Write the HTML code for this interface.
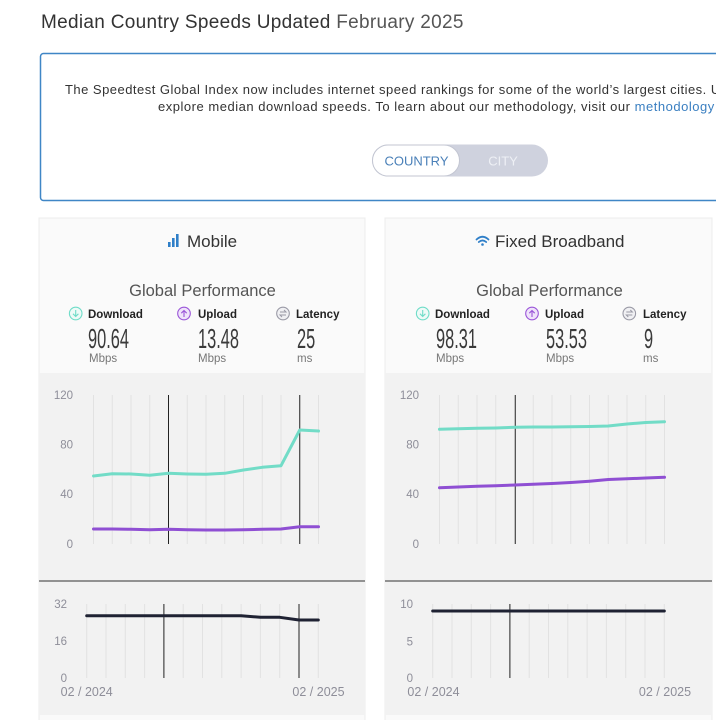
<!DOCTYPE html>
<html><head><meta charset="utf-8"><style>
html,body{margin:0;padding:0;background:#fff;width:716px;height:720px;overflow:hidden}
svg{display:block;font-family:"Liberation Sans",sans-serif}
</style></head><body>
<svg width="716" height="720" viewBox="0 0 716 720" xmlns="http://www.w3.org/2000/svg">
<!-- Title -->
<text x="41" y="28" font-size="19" letter-spacing="0.3" fill="#333">Median Country Speeds Updated <tspan fill="#555">February 2025</tspan></text>
<!-- Info box -->
<rect x="40.5" y="53.5" width="700" height="147" rx="3" fill="#fff" stroke="#3f86c6" stroke-width="1.5"/>
<text x="65" y="94" font-size="13" letter-spacing="0.48" fill="#333">The Speedtest Global Index now includes internet speed rankings for some of the world’s largest cities. Use</text>
<text x="158" y="111" font-size="13" letter-spacing="0.52" fill="#333">explore median download speeds. To learn about our methodology, visit our <tspan fill="#3a7fc1">methodology page</tspan></text>
<!-- Toggle -->
<rect x="372" y="144.5" width="176" height="32" rx="16" fill="#cfd2de"/>
<rect x="372.5" y="145" width="87" height="31" rx="15.5" fill="#fff" stroke="#c3c6d2"/>
<text x="416.5" y="165.5" font-size="13" text-anchor="middle" fill="#4a80b8">COUNTRY</text>
<text x="503" y="165.5" font-size="13" text-anchor="middle" fill="#eef0f5">CITY</text>

<!-- Cards -->
<rect x="39" y="218" width="326" height="510" fill="#fafafa" stroke="#ececec"/>
<rect x="385" y="218" width="327" height="510" fill="#fafafa" stroke="#ececec"/>
<rect x="39" y="373" width="326" height="342" fill="#f2f2f2"/>
<rect x="385" y="373" width="327" height="342" fill="#f2f2f2"/>

<!-- Mobile header -->
<rect x="168" y="242" width="2.6" height="5" fill="#2f7fc8"/>
<rect x="172" y="238" width="2.6" height="9" fill="#2f7fc8"/>
<rect x="176" y="234" width="2.6" height="13" fill="#2f7fc8"/>
<text x="187" y="247" font-size="17" fill="#333">Mobile</text>
<!-- Fixed header -->
<g fill="none" stroke="#2f7fc8" stroke-width="1.8" stroke-linecap="round">
<path d="M476.5 239.5 Q482.5 234 488.5 239.5"/>
<path d="M478.8 242 Q482.5 238.8 486.2 242"/>
</g>
<circle cx="482.5" cy="244.5" r="1.3" fill="#2f7fc8"/>
<text x="495" y="247" font-size="17" fill="#333">Fixed Broadband</text>

<text x="202.5" y="296" font-size="16.5" text-anchor="middle" fill="#555">Global Performance</text>
<text x="549.5" y="296" font-size="16.5" text-anchor="middle" fill="#555">Global Performance</text>

<!-- Icons & labels -->
<g font-size="11.5" font-weight="600" fill="#222">
<text x="88" y="318">Download</text><text x="198" y="318">Upload</text><text x="296" y="318">Latency</text>
<text x="435" y="318">Download</text><text x="545" y="318">Upload</text><text x="643" y="318">Latency</text>
</g>
<g id="icons">
<circle cx="75.7" cy="313.5" r="6.3" fill="#eefaf7" stroke="#6fdcc8" stroke-width="1.1"/>
<path d="M75.7 310v6.5M73 313.8l2.7 2.7 2.7-2.7" fill="none" stroke="#6fdcc8" stroke-width="1.1"/>
<circle cx="422.7" cy="313.5" r="6.3" fill="#eefaf7" stroke="#6fdcc8" stroke-width="1.1"/>
<path d="M422.7 310v6.5M420 313.8l2.7 2.7 2.7-2.7" fill="none" stroke="#6fdcc8" stroke-width="1.1"/>
<circle cx="184" cy="313.5" r="6.3" fill="#efe3fa" stroke="#9a55d8" stroke-width="1.1"/>
<path d="M184 317v-6.5M181.3 313.2l2.7-2.7 2.7 2.7" fill="none" stroke="#9a55d8" stroke-width="1.1"/>
<circle cx="532" cy="313.5" r="6.3" fill="#efe3fa" stroke="#9a55d8" stroke-width="1.1"/>
<path d="M532 317v-6.5M529.3 313.2l2.7-2.7 2.7 2.7" fill="none" stroke="#9a55d8" stroke-width="1.1"/>
<circle cx="283" cy="313.5" r="6.3" fill="#f0f0f3" stroke="#9a9aa6" stroke-width="1.1"/>
<path d="M280 312h6l-2-2M286 315h-6l2 2" fill="none" stroke="#9a9aa6" stroke-width="1"/>
<circle cx="629.3" cy="313.5" r="6.3" fill="#f0f0f3" stroke="#9a9aa6" stroke-width="1.1"/>
<path d="M626.3 312h6l-2-2M632.3 315h-6l2 2" fill="none" stroke="#9a9aa6" stroke-width="1"/>
</g>
<!-- Big numbers -->
<g font-size="28" fill="#3a3a3a">
<text transform="translate(88,348) scale(0.585,1)">90.64</text>
<text transform="translate(198,348) scale(0.585,1)">13.48</text>
<text transform="translate(297,348) scale(0.585,1)">25</text>
<text transform="translate(436,348) scale(0.585,1)">98.31</text>
<text transform="translate(546,348) scale(0.585,1)">53.53</text>
<text transform="translate(644,348) scale(0.585,1)">9</text>
</g>
<g font-size="11.5" fill="#777">
<text x="89" y="362">Mbps</text><text x="198" y="362">Mbps</text><text x="297" y="362">ms</text>
<text x="436" y="362">Mbps</text><text x="546" y="362">Mbps</text><text x="643" y="362">ms</text>
</g>

<!-- Grid -->
<g stroke="#e2e2e2" stroke-width="1">
<path d="M93.5 395V544M112.25 395V544M131 395V544M149.75 395V544M187.25 395V544M206 395V544M224.75 395V544M243.5 395V544M262.25 395V544M281 395V544M318.5 395V544"/>
<path d="M439.5 395V544M458.25 395V544M477 395V544M495.75 395V544M533.25 395V544M552 395V544M570.75 395V544M589.5 395V544M608.25 395V544M627 395V544M645.75 395V544M664.5 395V544"/>
<path d="M86.7 604V678M106 604V678M125.3 604V678M144.6 604V678M183.2 604V678M202.5 604V678M221.8 604V678M241.1 604V678M260.4 604V678M279.7 604V678M318.3 604V678"/>
<path d="M432.7 604V678M452 604V678M471.3 604V678M490.6 604V678M529.2 604V678M548.5 604V678M567.8 604V678M587.1 604V678M606.4 604V678M625.7 604V678M645 604V678M664.3 604V678"/>
</g>
<g stroke="#222" stroke-width="1">
<path d="M168.5 395V544M299.75 395V544M515.25 395V544"/>
<path d="M163.9 604V678M299 604V678M509.9 604V678"/>
</g>
<path d="M39 581H365M385 581H712" stroke="#333" stroke-width="1"/>

<!-- Axis labels -->
<g font-size="11.5" fill="#8e8e99" text-anchor="end">
<text x="73" y="399">120</text><text x="73" y="448.5">80</text><text x="73" y="498">40</text><text x="73" y="548">0</text>
<text x="419" y="399">120</text><text x="419" y="448.5">80</text><text x="419" y="498">40</text><text x="419" y="548">0</text>
<text x="67" y="608">32</text><text x="67" y="645">16</text><text x="67" y="682">0</text>
<text x="413" y="608">10</text><text x="413" y="645.5">5</text><text x="413" y="682">0</text>
</g>
<g font-size="12.5" fill="#8e8e99" text-anchor="middle">
<text x="86.7" y="696">02 / 2024</text><text x="318.5" y="696">02 / 2025</text>
<text x="433.5" y="696">02 / 2024</text><text x="665" y="696">02 / 2025</text>
</g>

<!-- Series -->
<g fill="none" stroke-width="3" stroke-linejoin="round" stroke-linecap="round">
<polyline stroke="#72dcc7" points="93.5,476 112.25,473.7 131,474 149.75,475.3 168.5,473.3 187.25,474 206,474.3 224.75,473.3 243.5,470 262.25,467.3 281,465.7 299.75,430 318.5,431"/>
<polyline stroke="#8f4fd3" points="93.5,529 112.25,529 131,529.3 149.75,529.7 168.5,529.3 187.25,529.7 206,530 224.75,530 243.5,529.7 262.25,529.3 281,529 299.75,526.7 318.5,526.7"/>
<polyline stroke="#72dcc7" points="439.5,429.3 458.25,428.8 477,428.3 495.75,428 515.25,427.3 533.25,427 552,427 570.75,426.8 589.5,426.5 608.25,426 627,424 645.75,422.5 664.5,421.7"/>
<polyline stroke="#8f4fd3" points="439.5,487.7 458.25,487 477,486.3 495.75,485.7 515.25,485 533.25,484.3 552,483.5 570.75,482.5 589.5,481.2 608.25,479.5 627,478.8 645.75,478 664.5,477.3"/>
<polyline stroke="#1f2233" points="86.7,615.7 241.1,615.7 260.4,617.3 279.7,617.3 299,620 318.3,620"/>
<polyline stroke="#1f2233" points="432.7,611 664.3,611"/>
</g>
</svg>
</body></html>
